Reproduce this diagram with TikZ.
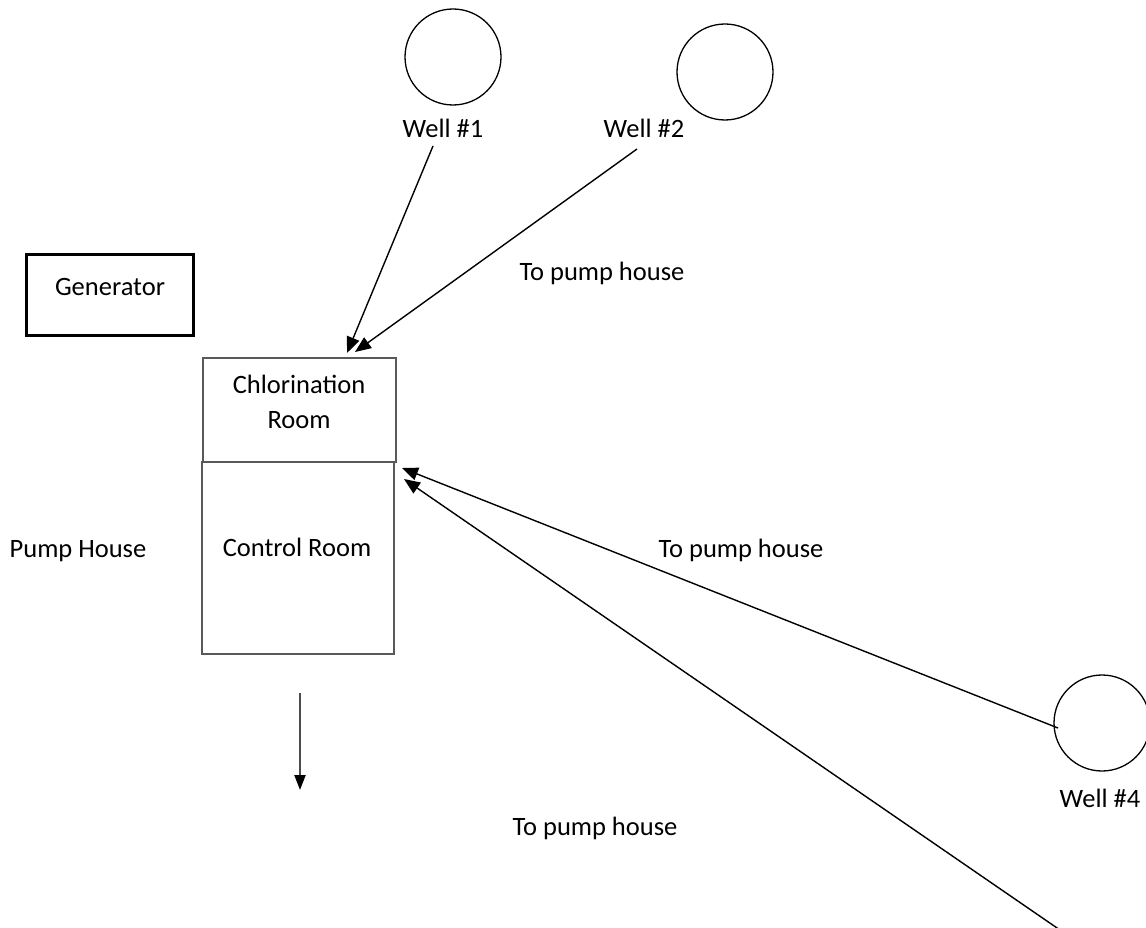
\documentclass[tikz,border=0pt]{standalone}
\usepackage{fontspec}
\setmainfont{Carlito}
\usetikzlibrary{arrows.meta}
\begin{document}
\begin{tikzpicture}[x=1pt,y=-1pt,
  lbl/.style={font=\fontsize{26.5}{35}\selectfont, inner sep=0pt, anchor=base, align=center},
  well/.style={circle, draw, line width=1.3pt, minimum size=96pt, inner sep=0pt},
  room/.style={draw=black!65, line width=1.5pt},
  pipe/.style={line width=1.4pt, -{Triangle[length=16pt,width=13pt]}},
  outlet/.style={draw=black!70, line width=2.2pt, -{Triangle[length=15pt,width=11pt,color=black]}}]
\useasboundingbox (0,0) rectangle (1146,928);
% wells
\node[well] (w1) at (453,57) {};
\node[well] (w2) at (725,72) {};
\node[well] (w4) at (1102,723) {};
\node[lbl] (w1l) at (443,138) {Well \#1};
\node[lbl] (w2l) at (644,138) {Well \#2};
\node[lbl] (w4l) at (1100,807) {Well \#4};
% generator
\node[draw, line width=3pt, minimum width=167pt, minimum height=81pt, inner sep=0pt] (gen) at (110,295) {};
\node[lbl] (genl) at (110,295) {Generator};
% pump house rooms
\draw[room] (203,358) rectangle (396,462);
\draw[room] (202,462) rectangle (394,654);
\coordinate (chl) at (299.5,410);
\coordinate (ctl) at (298,558);
\node[lbl] (chlt1) at (299,393) {Chlorination};
\node[lbl] (chlt2) at (299,428) {Room};
\node[lbl] (ctlt) at (297,556) {Control Room};
\node[lbl] (phl) at (78,557) {Pump House};
% pipe labels
\node[lbl] (tp1) at (602,280) {To pump house};
\node[lbl] (tp2) at (741,557) {To pump house};
\node[lbl] (tp3) at (595,835) {To pump house};
% pipe coordinates
\coordinate (s1) at (433,146);
\coordinate (e1) at (347,353);
\coordinate (s2) at (637,149);
\coordinate (e2) at (355,352);
\coordinate (s4) at (1058,728);
\coordinate (e4) at (402,468);
\coordinate (s5) at (1060,930);
\coordinate (e5) at (404,479);
\coordinate (o1) at (300,693);
\coordinate (o2) at (300,790);
\draw[pipe] (s1) -- (e1);
\draw[pipe] (s2) -- (e2);
\draw[pipe] (s4) -- (e4);
\draw[pipe] (s5) -- (e5);
\draw[outlet] (o1) -- (o2);
\end{tikzpicture}
\end{document}
